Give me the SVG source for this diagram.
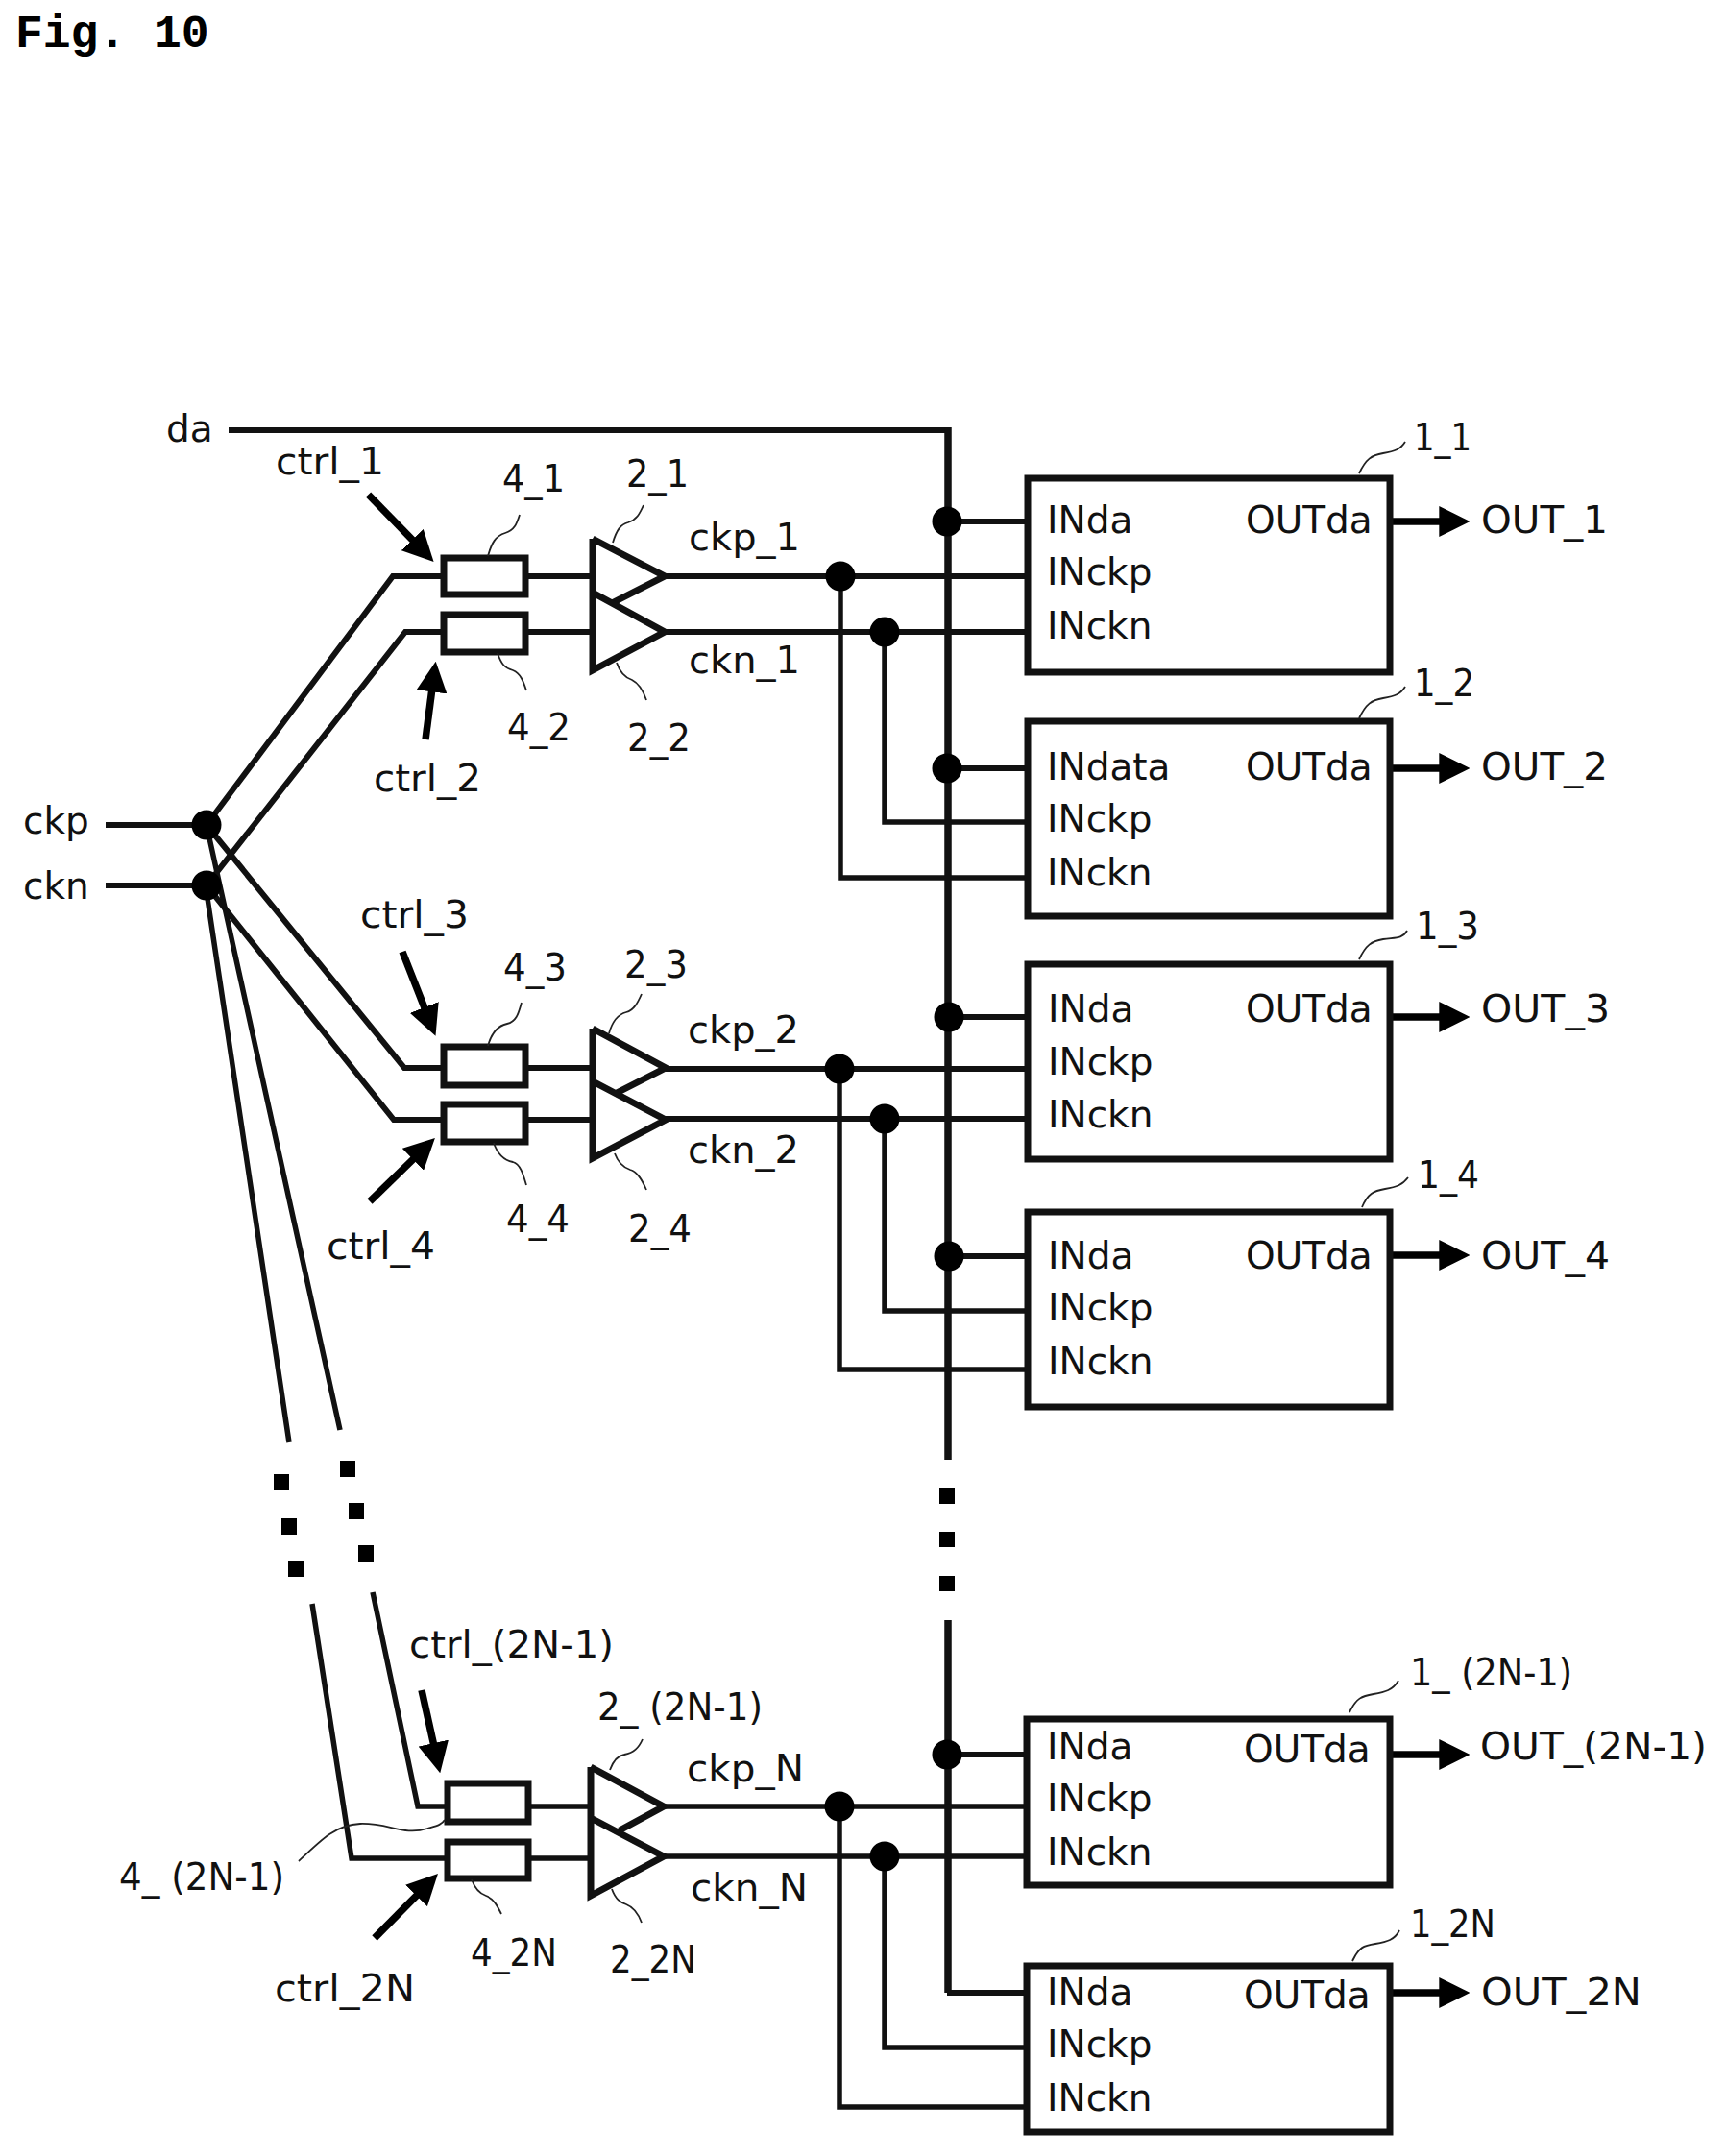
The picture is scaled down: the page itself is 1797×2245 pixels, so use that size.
<svg xmlns="http://www.w3.org/2000/svg" width="1797" height="2245" viewBox="0 0 1797 2245">
<style>
text{font-family:"DejaVu Sans",sans-serif;font-size:39px;fill:#111}
.fig{font-family:"Liberation Mono",monospace;font-weight:bold;font-size:48px;fill:#000}
.w{fill:none;stroke:#111;stroke-width:6;stroke-linejoin:miter}
.t{stroke-width:5.5}
.v{stroke-width:7.5}
.box{fill:#fff;stroke:#111;stroke-width:7}
.buf{fill:#fff;stroke:#111;stroke-width:7}
.sw{fill:#fff;stroke:#111;stroke-width:7}
.lead{fill:none;stroke:#222;stroke-width:1.8}
.dot{fill:#000}
.arr{fill:none;stroke:#000;stroke-width:7.5;marker-end:url(#h)}
</style>
<defs>
<marker id="h" markerUnits="userSpaceOnUse" markerWidth="32" markerHeight="32" viewBox="0 0 30 30" refX="10" refY="15" orient="auto"><path d="M0,0L30,15L0,30z" fill="#000"/></marker>
</defs>
<rect width="1797" height="2245" fill="#fff"/>
<text class="fig" x="16" y="49">Fig. 10</text>
<g id="connectors">
<path class="w" d="M238,448H987"/>
<path class="w v" d="M987,445V1520M987,1687V2075"/>
<path class="w" d="M986,2075H1069M986,543H1069M986,800H1069M988,1059H1069M988,1308H1069M986,1827H1069"/>
<path class="w" d="M110,859H215L409,600H462M546,600H617M692,600H1069"/>
<path class="w" d="M110,922H215L422,658H462M546,658H617M692,658H1069"/>
<path class="w" d="M215,859L421,1112H462M548,1112H617M693,1113H1069"/>
<path class="w" d="M215,922L410,1166H462M548,1166H617M693,1165H1069"/>
<path class="w t" d="M215,859L354,1489M388,1658L435,1881H466M550,1881H615M691,1881H1069"/>
<path class="w t" d="M214,922L301,1502M325,1670L366,1935H466M550,1935H615M691,1933H1069"/>
<path class="w t" d="M875,600V914H1069M921,658V856H1069"/>
<path class="w t" d="M874,1113V1426H1069M921,1165V1365H1069"/>
<path class="w t" d="M874,1881V2194H1069M921,1933V2132H1069"/>
<circle class="dot" cx="215" cy="859" r="15.5"/><circle class="dot" cx="215" cy="922" r="15.5"/>
<circle class="dot" cx="986" cy="543" r="15.5"/><circle class="dot" cx="986" cy="800" r="15.5"/><circle class="dot" cx="988" cy="1059" r="15.5"/><circle class="dot" cx="988" cy="1308" r="15.5"/><circle class="dot" cx="986" cy="1827" r="15.5"/>
<circle class="dot" cx="875" cy="600" r="15.5"/><circle class="dot" cx="921" cy="658" r="15.5"/>
<circle class="dot" cx="874" cy="1113" r="15.5"/><circle class="dot" cx="921" cy="1165" r="15.5"/>
<circle class="dot" cx="874" cy="1881" r="15.5"/><circle class="dot" cx="921" cy="1933" r="15.5"/>
<path class="dot" d="M285,1535h16v17h-16zM293,1581h16v17h-16zM300,1625h16v17h-16zM354,1521h16v17h-16zM363,1565h16v17h-16zM373,1609h16v17h-16zM978,1549h16v17h-16zM978,1595h16v16h-16zM978,1641h16v16h-16z"/>
<path class="arr" d="M383.5,515L436.7,569.7"/>
<path class="arr" d="M443,770L450.9,709.8"/>
<path class="arr" d="M419,991L445.7,1058.9"/>
<path class="arr" d="M385,1251L437.6,1199.9"/>
<path class="arr" d="M439,1760L453.6,1825.5"/>
<path class="arr" d="M390,2018L441,1966.3"/>
<path class="arr" d="M1447,543H1509"/>
<path class="arr" d="M1447,800H1509"/>
<path class="arr" d="M1447,1059H1509"/>
<path class="arr" d="M1447,1307H1509"/>
<path class="arr" d="M1447,1827H1509"/>
<path class="arr" d="M1447,2075H1509"/>
</g>
<g id="inputs">
<text x="173" y="460">da</text><text x="24" y="868">ckp</text><text x="24" y="936">ckn</text>
</g>
<g id="switch_4_1"><rect class="sw" x="462" y="581" width="85" height="38"/><text x="523" y="512" textLength="65" lengthAdjust="spacingAndGlyphs">4_1</text><path class="lead" d="M508,579C512,565 516,558 526,555C536,552 538,545 541,536"/><text x="287" y="494" textLength="113" lengthAdjust="spacingAndGlyphs">ctrl_1</text></g>
<g id="switch_4_2"><rect class="sw" x="462" y="640" width="85" height="39"/><text x="528" y="771" textLength="66" lengthAdjust="spacingAndGlyphs">4_2</text><path class="lead" d="M518,680C522,692 526,696 534,698C542,701 545,710 548,719"/><text x="389" y="824" textLength="112" lengthAdjust="spacingAndGlyphs">ctrl_2</text></g>
<g id="switch_4_3"><rect class="sw" x="462" y="1090" width="85" height="40"/><text x="524" y="1021" textLength="66" lengthAdjust="spacingAndGlyphs">4_3</text><path class="lead" d="M508,1089C512,1075 518,1068 528,1066C538,1064 540,1054 543,1044"/><text x="375" y="966" textLength="113" lengthAdjust="spacingAndGlyphs">ctrl_3</text></g>
<g id="switch_4_4"><rect class="sw" x="462" y="1150" width="85" height="39"/><text x="527" y="1283" textLength="66" lengthAdjust="spacingAndGlyphs">4_4</text><path class="lead" d="M514,1190C518,1202 524,1208 534,1210C542,1212 545,1224 548,1234"/><text x="340" y="1311" textLength="113" lengthAdjust="spacingAndGlyphs">ctrl_4</text></g>
<g id="switch_4_2N-1"><rect class="sw" x="466" y="1857" width="84" height="40"/><text x="124" y="1968" textLength="172" lengthAdjust="spacingAndGlyphs">4_ (2N-1)</text><path class="lead" d="M311,1938C335,1915 350,1900 375,1899C405,1898 420,1912 445,1904C455,1901 460,1900 463,1895"/><text x="426" y="1726" textLength="213" lengthAdjust="spacingAndGlyphs">ctrl_(2N-1)</text></g>
<g id="switch_4_2N"><rect class="sw" x="466" y="1918" width="84" height="38"/><text x="490" y="2047" textLength="90" lengthAdjust="spacingAndGlyphs">4_2N</text><path class="lead" d="M491,1957C495,1968 500,1972 506,1974C514,1977 518,1985 522,1993"/><text x="286" y="2084" textLength="146" lengthAdjust="spacingAndGlyphs">ctrl_2N</text></g>
<g id="buffers_1">
<path class="lead" d="M638,565C642,552 646,546 654,544C663,541 666,535 670,526"/><path class="lead" d="M642,690C646,702 652,706 658,708C666,712 670,720 673,729"/>
<path class="buf" d="M617,561L692,600L637,628"/><path class="buf" d="M617,561V698L692,658L617,617"/>
<text x="652" y="507" textLength="65" lengthAdjust="spacingAndGlyphs">2_1</text><text x="653" y="782" textLength="66" lengthAdjust="spacingAndGlyphs">2_2</text><text x="717" y="573" textLength="116" lengthAdjust="spacingAndGlyphs">ckp_1</text><text x="717" y="701" textLength="116" lengthAdjust="spacingAndGlyphs">ckn_1</text></g>
<g id="buffers_2">
<path class="lead" d="M634,1076C638,1062 644,1056 652,1054C660,1052 664,1044 668,1035"/><path class="lead" d="M640,1201C644,1212 650,1216 656,1218C664,1220 669,1230 673,1239"/>
<path class="buf" d="M617,1071L693,1112L642,1138"/><path class="buf" d="M617,1071V1206L693,1166L617,1126"/>
<text x="650" y="1018" textLength="66" lengthAdjust="spacingAndGlyphs">2_3</text><text x="654" y="1293" textLength="66" lengthAdjust="spacingAndGlyphs">2_4</text><text x="716" y="1086" textLength="116" lengthAdjust="spacingAndGlyphs">ckp_2</text><text x="716" y="1211" textLength="116" lengthAdjust="spacingAndGlyphs">ckn_2</text></g>
<g id="buffers_N">
<path class="lead" d="M635,1843C639,1832 644,1828 650,1827C660,1825 665,1820 669,1811"/><path class="lead" d="M637,1967C641,1978 646,1981 652,1983C660,1986 665,1994 668,2002"/>
<path class="buf" d="M615,1840L691,1881L645,1906"/><path class="buf" d="M615,1840V1974L691,1933L615,1893"/>
<text x="622" y="1791" textLength="172" lengthAdjust="spacingAndGlyphs">2_ (2N-1)</text><text x="635" y="2054" textLength="90" lengthAdjust="spacingAndGlyphs">2_2N</text><text x="715" y="1855" textLength="122" lengthAdjust="spacingAndGlyphs">ckp_N</text><text x="719" y="1979" textLength="122" lengthAdjust="spacingAndGlyphs">ckn_N</text></g>
<g id="block_1_1"><rect class="box" x="1070" y="498" width="377" height="202"/><path class="lead" d="M1415,493C1422,478 1428,474 1440,472C1452,470 1458,468 1463,460"/><text x="1472" y="469" textLength="60" lengthAdjust="spacingAndGlyphs">1_1</text><text x="1090" y="555">INda</text><text x="1090" y="609">INckp</text><text x="1090" y="665">INckn</text><text x="1297" y="555">OUTda</text><text x="1542" y="555" textLength="132" lengthAdjust="spacingAndGlyphs">OUT_1</text></g>
<g id="block_1_2"><rect class="box" x="1070" y="751" width="377" height="203"/><path class="lead" d="M1415,748C1422,733 1428,729 1440,727C1452,725 1458,723 1463,715"/><text x="1472" y="725" textLength="63" lengthAdjust="spacingAndGlyphs">1_2</text><text x="1090" y="812">INdata</text><text x="1090" y="866">INckp</text><text x="1090" y="922">INckn</text><text x="1297" y="812">OUTda</text><text x="1542" y="812" textLength="132" lengthAdjust="spacingAndGlyphs">OUT_2</text></g>
<g id="block_1_3"><rect class="box" x="1070" y="1004" width="377" height="203"/><path class="lead" d="M1415,999C1422,984 1428,980 1440,978C1452,976 1460,978 1465,969"/><text x="1474" y="978" textLength="66" lengthAdjust="spacingAndGlyphs">1_3</text><text x="1091" y="1064">INda</text><text x="1091" y="1119">INckp</text><text x="1091" y="1174">INckn</text><text x="1297" y="1064">OUTda</text><text x="1542" y="1064" textLength="134" lengthAdjust="spacingAndGlyphs">OUT_3</text></g>
<g id="block_1_4"><rect class="box" x="1070" y="1262" width="377" height="203"/><path class="lead" d="M1418,1257C1424,1243 1430,1240 1442,1238C1454,1236 1460,1234 1466,1226"/><text x="1476" y="1237" textLength="64" lengthAdjust="spacingAndGlyphs">1_4</text><text x="1091" y="1321">INda</text><text x="1091" y="1375">INckp</text><text x="1091" y="1431">INckn</text><text x="1297" y="1321">OUTda</text><text x="1542" y="1321" textLength="134" lengthAdjust="spacingAndGlyphs">OUT_4</text></g>
<g id="block_1_2N-1"><rect class="box" x="1069" y="1790" width="378" height="173"/><path class="lead" d="M1405,1783C1412,1768 1418,1766 1430,1764C1442,1762 1450,1760 1456,1750"/><text x="1468" y="1755" textLength="169" lengthAdjust="spacingAndGlyphs">1_ (2N-1)</text><text x="1090" y="1832">INda</text><text x="1090" y="1886">INckp</text><text x="1090" y="1942">INckn</text><text x="1295" y="1835">OUTda</text><text x="1541" y="1832" textLength="236" lengthAdjust="spacingAndGlyphs">OUT_(2N-1)</text></g>
<g id="block_1_2N"><rect class="box" x="1069" y="2047" width="378" height="173"/><path class="lead" d="M1408,2042C1415,2027 1420,2026 1432,2024C1444,2022 1452,2020 1457,2010"/><text x="1468" y="2017" textLength="89" lengthAdjust="spacingAndGlyphs">1_2N</text><text x="1090" y="2088">INda</text><text x="1090" y="2142">INckp</text><text x="1090" y="2198">INckn</text><text x="1295" y="2091">OUTda</text><text x="1542" y="2088" textLength="167" lengthAdjust="spacingAndGlyphs">OUT_2N</text></g>
</svg>
